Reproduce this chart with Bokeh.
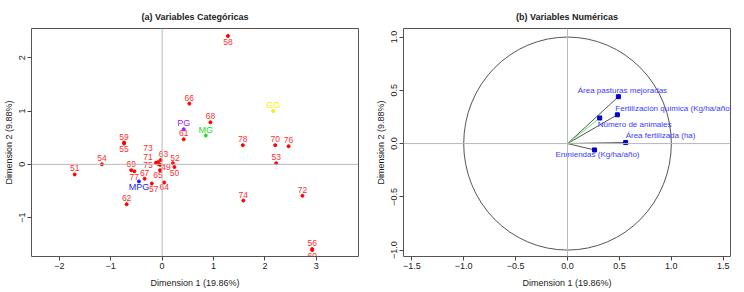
from bokeh.plotting import figure
from bokeh.layouts import row
from bokeh.models import Range1d, FixedTicker, Span, ColumnDataSource
from bokeh.core.properties import value
from bokeh.embed import file_html
from bokeh.resources import INLINE

FONT = "Liberation Sans"

# ---------------- (a) categorical: individuals ----------------
ind_labels = ["58", "66", "68", "61", "78", "70", "76", "59", "55", "54",
              "51", "53", "52", "50", "49", "73", "71", "75", "63", "65",
              "69", "77", "67", "57", "64", "62", "74", "72", "56", "60"]
ind_x = [1.28, 0.53, 0.94, 0.42, 1.57, 2.20, 2.46, -0.74, -0.74, -1.17,
         -1.70, 2.22, 0.21, 0.24, -0.04, -0.08, -0.08, -0.12, -0.03, -0.04,
         -0.60, -0.54, -0.34, -0.20, 0.04, -0.69, 1.58, 2.73, 2.92, 2.92]
ind_y = [2.41, 1.14, 0.79, 0.47, 0.36, 0.36, 0.34, 0.41, 0.39, 0.00,
         -0.19, 0.02, 0.02, -0.05, -0.01, 0.04, 0.01, 0.03, 0.08, -0.11,
         -0.11, -0.13, -0.27, -0.36, -0.34, -0.75, -0.68, -0.59, -1.59, -1.61]

# supplementary categories
cat_labels = ["MPG", "PG", "MG", "GG"]
cat_x = [-0.45, 0.42, 0.85, 2.16]
cat_y = [-0.32, 0.66, 0.54, 1.00]
cat_colors = ["#1a1aff", "#a020f0", "#22dd22", "#f2f200"]

# label placement (screen px, + = right / down)
ind_dx = [0, 0, 0, 0, 0, 0, 0, 0, 0, 0,
          0, 0, 2, 0, 6, -10, -10, -8, 3, -2,
          0, 0, 0, 2, 0, 0, 0, 0, 0, 0]
ind_dy = [6, -6, -6, -6, -6, -6, -6, -6, 5, -6,
          -6, -6, -5, 6, 2, -14, -7, 2, -6, 5,
          -6, 6, -6, 5, 5, -6, -6, -6, -6, 6]
cat_dx = [0, 0, 0, 0]
cat_dy = [6, -6, -6, -6]

# ---------------- (b) numerical variables ----------------
var_names = ["Área pasturas mejoradas", "Fertilización química (Kg/ha/año)",
             "Número de animales", "Área fertilizada (ha)", "Enmiendas (Kg/ha/año)"]
var_x = [0.49, 0.48, 0.31, 0.56, 0.26]
var_y = [0.44, 0.27, 0.24, 0.01, -0.06]
var_dx = [4, -2, -2, 0, 3]
var_dy = [-6, -6, 7, -7, 5]
var_align = ["center", "left", "left", "left", "center"]
var_line = ["#555555", "#555555", "#5ee85e", "#555555", "#555555"]


def style(p, xticks, xlabels, yticks, ylabels):
    p.grid.visible = False
    p.outline_line_color = "#555555"
    p.outline_line_width = 1
    p.title.text_font = FONT
    p.title.text_font_size = "9px"
    p.title.text_font_style = "bold"
    p.title.align = "center"
    p.title.text_color = "#222222"
    p.title.standoff = 13
    for ax in (p.xaxis[0], p.yaxis[0]):
        ax.axis_line_color = None
        ax.major_tick_line_color = "#444444"
        ax.major_tick_in = 0
        ax.major_tick_out = 4
        ax.minor_tick_line_color = None
        ax.major_label_text_font = FONT
        ax.major_label_text_font_size = "9px"
        ax.major_label_text_color = "#222222"
        ax.major_label_standoff = 2
        ax.axis_label_text_font = FONT
        ax.axis_label_text_font_size = "9px"
        ax.axis_label_text_font_style = "normal"
        ax.axis_label_text_color = "#222222"
        ax.axis_label_standoff = 6
    p.xaxis[0].ticker = FixedTicker(ticks=xticks)
    p.xaxis[0].major_label_overrides = dict(zip(xticks, xlabels))
    p.yaxis[0].ticker = FixedTicker(ticks=yticks)
    p.yaxis[0].major_label_overrides = dict(zip(yticks, ylabels))
    p.yaxis[0].major_label_orientation = "vertical"
    p.yaxis[0].axis_label_standoff = 3
    p.add_layout(Span(location=0, dimension="width", line_color="#b8b8b8", line_width=1))
    p.add_layout(Span(location=0, dimension="height", line_color="#b8b8b8", line_width=1))


# ---- panel a ----
pa = figure(width=372, height=292, output_backend="svg", toolbar_location=None,
            x_range=Range1d(-2.54, 3.82), y_range=Range1d(-1.73, 2.55),
            title="(a) Variables Categóricas",
            x_axis_label="Dimension 1 (19.86%)", y_axis_label="Dimension 2 (9.88%)",
            min_border_left=27, min_border_right=14, min_border_top=28, min_border_bottom=36)
style(pa, [-2, -1, 0, 1, 2, 3], ["−2", "−1", "0", "1", "2", "3"],
      [-1, 0, 1, 2], ["−1", "0", "1", "2"])

ind_src = ColumnDataSource(dict(x=ind_x, y=ind_y, t=ind_labels, dx=ind_dx, dy=ind_dy))
pa.scatter("x", "y", source=ind_src, size=3, color="#ff0000")
pa.text("x", "y", text="t", source=ind_src, x_offset="dx", y_offset="dy",
        text_font=value(FONT), text_font_size="8.5px", text_color="#ff3030",
        text_align="center", text_baseline="middle")

cat_src = ColumnDataSource(dict(x=cat_x, y=cat_y, t=cat_labels, c=cat_colors, dx=cat_dx, dy=cat_dy))
pa.scatter("x", "y", source=cat_src, size=3, color="c")
pa.text("x", "y", text="t", source=cat_src, x_offset="dx", y_offset="dy",
        text_font=value(FONT), text_font_size="9px", text_color="c",
        text_align="center", text_baseline="middle")

# ---- panel b ----
pb = figure(width=372, height=292, output_backend="svg", toolbar_location=None,
            x_range=Range1d(-1.58, 1.57), y_range=Range1d(-1.06, 1.08),
            title="(b) Variables Numéricas",
            x_axis_label="Dimension 1 (19.86%)", y_axis_label="Dimension 2 (9.88%)",
            min_border_left=27, min_border_right=14, min_border_top=28, min_border_bottom=36)
style(pb, [-1.5, -1.0, -0.5, 0.0, 0.5, 1.0, 1.5],
      ["−1.5", "−1.0", "−0.5", "0.0", "0.5", "1.0", "1.5"],
      [-1.0, -0.5, 0.0, 0.5, 1.0], ["−1.0", "−0.5", "0.0", "0.5", "1.0"])

pb.ellipse(x=[0], y=[0], width=[2], height=[2], fill_color=None,
           line_color="#555555", line_width=1)

seg_src = ColumnDataSource(dict(x0=[0] * len(var_x), y0=[0] * len(var_y),
                                x1=var_x, y1=var_y, c=var_line))
pb.segment("x0", "y0", "x1", "y1", source=seg_src, line_color="c", line_width=1)
pb.scatter(var_x, var_y, marker="square", size=4, color="#0000cc")

for al in ("left", "center"):
    idx = [i for i, a in enumerate(var_align) if a == al]
    src = ColumnDataSource(dict(x=[var_x[i] for i in idx], y=[var_y[i] for i in idx],
                                t=[var_names[i] for i in idx],
                                dx=[var_dx[i] for i in idx], dy=[var_dy[i] for i in idx]))
    pb.text("x", "y", text="t", source=src, x_offset="dx", y_offset="dy",
            text_font=value(FONT), text_font_size="8px", text_color="#3a3aff",
            text_align=al, text_baseline="middle")

layout = row(pa, pb)
open("out.html", "w").write(file_html(layout, INLINE))
